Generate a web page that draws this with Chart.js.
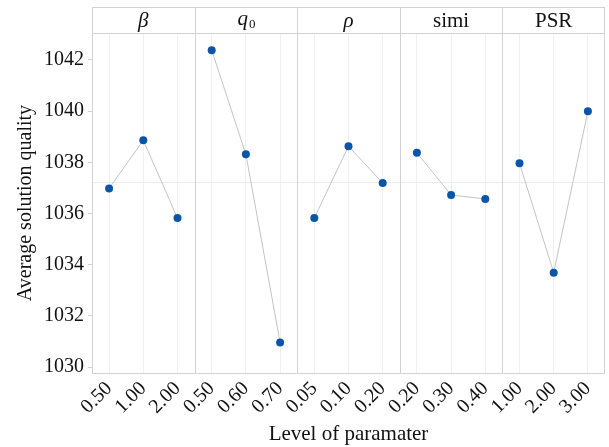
<!DOCTYPE html>
<html>
<head>
<meta charset="utf-8">
<script src="https://cdn.jsdelivr.net/npm/chart.js@4"></script>
<style>
  html, body { margin: 0; padding: 0; background: #fff; font-family: "Liberation Serif", serif; }
  #wrap { width: 609px; height: 447px; }
</style>
</head>
<body>
<div id="wrap"><canvas id="chart"></canvas></div>
<script>
// parameter groups and their levels
const groups = ['β', 'q0', 'ρ', 'simi', 'PSR'];
const levels = [
    ['0.50', '1.00', '2.00'],
    ['0.50', '0.60', '0.70'],
    ['0.05', '0.10', '0.20'],
    ['0.20', '0.30', '0.40'],
    ['1.00', '2.00', '3.00']
];
// average solution quality at each level
const betaVals = [1036.98, 1038.86, 1035.82];
const q0Vals = [1042.38, 1038.31, 1030.96];
const rhoVals = [1035.82, 1038.63, 1037.19];
const simiVals = [1038.37, 1036.72, 1036.57];
const psrVals = [1037.96, 1033.69, 1039.99];
const yTicks = [1030, 1032, 1034, 1036, 1038, 1040, 1042];

const allVals = [betaVals, q0Vals, rhoVals, simiVals, psrVals];
const labels = levels.flat();
const flat = allVals.flat();
const grandMean = flat.reduce((a, b) => a + b, 0) / flat.length;

const FONT = '"Liberation Serif", serif';
Chart.defaults.font.family = FONT;

// one dataset per panel so the lines break between panels
const datasets = allVals.map(function(vals, g) {
    const data = labels.map(() => null);
    vals.forEach(function(v, i) { data[g * 3 + i] = v; });
    return {
        label: groups[g],
        data: data,
        borderColor: '#c4c4c4',
        borderWidth: 1,
        pointBackgroundColor: '#0a55a8',
        pointBorderColor: '#0a55a8',
        pointRadius: 4,
        pointBorderWidth: 0,
        spanGaps: false,
        tension: 0
    };
});

// header strip, panel dividers, mean line and frame
const panelPlugin = {
    id: 'panels',
    beforeDatasetsDraw(chart) {
        const ctx = chart.ctx;
        const a = chart.chartArea;
        const y = chart.scales.y;
        ctx.save();
        // mean reference line
        ctx.strokeStyle = '#ececec';
        ctx.lineWidth = 1;
        const my = Math.round(y.getPixelForValue(grandMean)) + 0.5;
        ctx.beginPath();
        ctx.moveTo(a.left, my);
        ctx.lineTo(a.right, my);
        ctx.stroke();
        ctx.restore();
    },
    afterDraw(chart) {
        const ctx = chart.ctx;
        const a = chart.chartArea;
        const x = chart.scales.x;
        const top = 7;
        ctx.save();
        ctx.strokeStyle = '#d2d2d2';
        ctx.lineWidth = 1;
        // frame
        ctx.strokeRect(a.left + 0.5, top + 0.5, a.right - a.left - 1, a.bottom - top);
        // header bottom line
        ctx.beginPath();
        ctx.moveTo(a.left, a.top + 0.5);
        ctx.lineTo(a.right, a.top + 0.5);
        ctx.stroke();
        // dividers
        const bounds = [a.left];
        for (let g = 1; g < groups.length; g++) {
            const px = (x.getPixelForValue(g * 3 - 1) + x.getPixelForValue(g * 3)) / 2;
            bounds.push(px);
            ctx.beginPath();
            ctx.moveTo(Math.round(px) + 0.5, top);
            ctx.lineTo(Math.round(px) + 0.5, a.bottom);
            ctx.stroke();
        }
        bounds.push(a.right);
        // panel titles
        ctx.fillStyle = '#111';
        ctx.textBaseline = 'middle';
        ctx.textAlign = 'center';
        const cy = (top + a.top) / 2 + 1;
        groups.forEach(function(name, g) {
            const cx = (bounds[g] + bounds[g + 1]) / 2;
            if (name === 'q0') {
                ctx.font = 'italic 21px ' + FONT;
                const w1 = ctx.measureText('q').width;
                ctx.font = '13px ' + FONT;
                const w2 = ctx.measureText('0').width;
                const sx = cx - (w1 + w2) / 2;
                ctx.textAlign = 'left';
                ctx.font = 'italic 21px ' + FONT;
                ctx.fillText('q', sx, cy - 2);
                ctx.font = '13px ' + FONT;
                ctx.fillText('0', sx + w1 + 1, cy + 4);
                ctx.textAlign = 'center';
            } else if (name === 'β' || name === 'ρ') {
                ctx.font = 'italic 21px ' + FONT;
                ctx.fillText(name, cx, cy);
            } else {
                ctx.font = '21px ' + FONT;
                ctx.fillText(name, cx, cy);
            }
        });
        ctx.restore();
    }
};

new Chart(document.getElementById('chart'), {
    type: 'line',
    data: { labels: labels, datasets: datasets },
    options: {
        responsive: true,
        maintainAspectRatio: false,
        animation: false,
        layout: { padding: { top: 33, right: 1, left: 14, bottom: 0 } },
        plugins: {
            legend: { display: false },
            tooltip: { enabled: false }
        },
        scales: {
            x: {
                type: 'category',
                offset: true,
                border: { display: false },
                grid: { color: '#f0f0f0', drawTicks: false, offset: false },
                ticks: {
                    color: '#111',
                    font: { family: FONT, size: 20 },
                    maxRotation: 45,
                    minRotation: 45,
                    autoSkip: false,
                    padding: 4
                },
                title: {
                    display: true,
                    text: 'Level of paramater',
                    color: '#111',
                    font: { family: FONT, size: 21 },
                    padding: { top: 0, bottom: 0 }
                },
                afterFit: function(s) { s.height = 74; }
            },
            y: {
                min: 1029.77,
                max: 1043.05,
                border: { display: false },
                grid: { drawOnChartArea: false, drawTicks: true, tickLength: 4, color: '#d2d2d2' },
                afterBuildTicks: function(s) { s.ticks = yTicks.map(v => ({ value: v })); },
                ticks: {
                    color: '#111',
                    font: { family: FONT, size: 20 },
                    padding: 4,
                    callback: function(v) { return String(v); }
                },
                title: {
                    display: true,
                    text: 'Average solution quality',
                    color: '#111',
                    font: { family: FONT, size: 20 },
                    padding: { top: 0, bottom: 4 }
                },
                afterFit: function(s) { s.width = 78; }
            }
        }
    },
    plugins: [panelPlugin]
});
</script>
</body>
</html>
